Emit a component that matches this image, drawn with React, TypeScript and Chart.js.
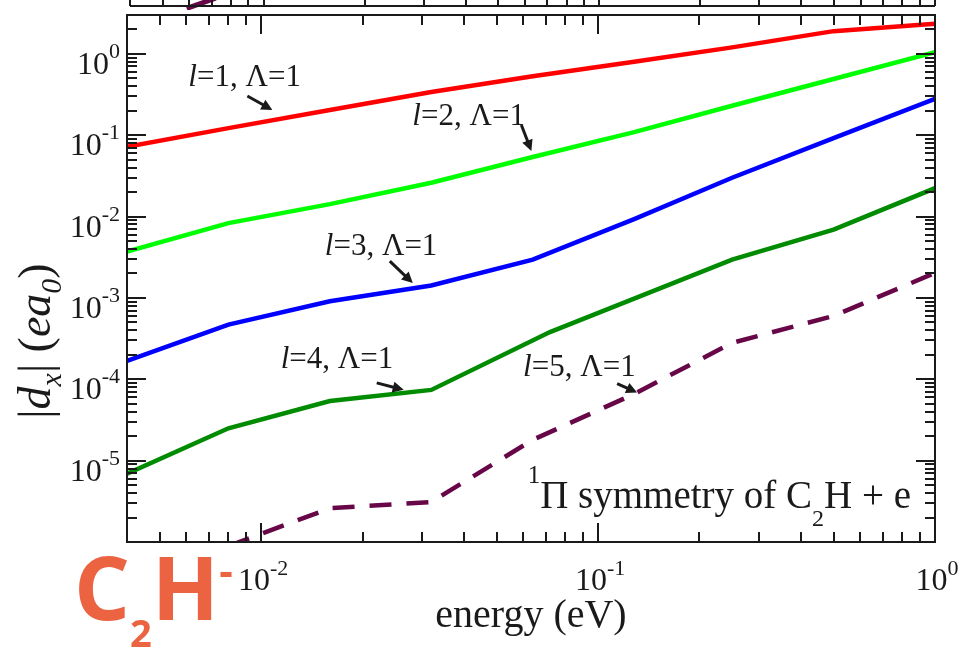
import React, { useEffect, useRef } from "react";
import { Chart, registerables } from "chart.js";

Chart.register(...registerables);

// ---- data -------------------------------------------------------------
// photon energy grid (eV)
const energy = [0.004, 0.008, 0.016, 0.032, 0.064, 0.128, 0.25, 0.5, 1.0];
// |d_x| in e*a0 for each partial wave l (Lambda = 1)
const dL1 = [0.072, 0.122, 0.204, 0.34, 0.53, 0.8, 1.2, 1.9, 2.35];
const dL2 = [0.0037, 0.0083, 0.0142, 0.026, 0.054, 0.109, 0.23, 0.49, 1.05];
const dL3 = [1.68e-4, 4.7e-4, 9.1e-4, 1.42e-3, 2.95e-3, 9.3e-3, 3.0e-2, 9.2e-2, 0.28];
const energyL4 = [0.004, 0.008, 0.016, 0.032, 0.072, 0.25, 0.5, 1.0];
const dL4 = [6.9e-6, 2.5e-5, 5.4e-5, 7.4e-5, 3.8e-4, 2.95e-3, 6.9e-3, 0.0223];
const energyL5 = [0.008, 0.016, 0.032, 0.064, 0.128, 0.25, 0.5, 1.0];
const dL5 = [8.9e-7, 2.6e-6, 3.1e-6, 1.8e-5, 6.6e-5, 2.8e-4, 6.0e-4, 2.03e-3];

// the lower edge of the panel above
const stripEnergy = [0.0059, 0.0072];
const stripValue = [-0.4, 1.3];

// decade exponents that carry a tick label
const xTickExps = [-2, -1, 0];
const yTickExps = [0, -1, -2, -3, -4, -5];

// curve annotations: l value and the point each arrow points at
const noteL = ["1", "2", "3", "4", "5"];
const noteEnergy = [0.0108, 0.0634, 0.0282, 0.0265, 0.1306];
const noteValue = [0.204, 0.064, 1.52e-3, 7.41e-5, 6.87e-5];

// ---- styling ----------------------------------------------------------
const SERIF = '"Liberation Serif", "DejaVu Serif", serif';
const INK = "#1a1a1a";
const MAROON = "rgb(103,7,72)";
const LOGO = "rgb(236,99,65)";

// arrow tail and label offsets (px) relative to the arrow tip
const noteTail = [[-25, -14], [-10, -26], [-23, -22], [-27, -7], [-20, -9]];
const noteText = [[-84, -24], [-119, -26], [-88, -28], [-123, -22], [-114, -17]];

type Seg = { t: string; size: number; italic?: boolean; dy?: number; family?: string; weight?: string };

const segFont = (s: Seg) =>
  `${s.italic ? "italic " : ""}${s.weight ?? "normal"} ${s.size}px ${s.family ?? SERIF}`;

function richWidth(ctx: CanvasRenderingContext2D, segs: Seg[]) {
  let w = 0;
  for (const s of segs) {
    ctx.font = segFont(s);
    w += ctx.measureText(s.t).width;
  }
  return w;
}

function drawRich(
  ctx: CanvasRenderingContext2D,
  segs: Seg[],
  x: number,
  y: number,
  align: "left" | "center" | "right" = "left"
) {
  const w = richWidth(ctx, segs);
  let cx = align === "left" ? x : align === "center" ? x - w / 2 : x - w;
  ctx.textAlign = "left";
  ctx.textBaseline = "alphabetic";
  for (const s of segs) {
    ctx.font = segFont(s);
    ctx.fillText(s.t, cx, y + (s.dy ?? 0));
    cx += ctx.measureText(s.t).width;
  }
}

function logTicks(min: number, max: number) {
  const out: { v: number; major: boolean }[] = [];
  for (let e = Math.floor(Math.log10(min)) - 1; e <= Math.ceil(Math.log10(max)); e++) {
    for (let m = 1; m <= 9; m++) {
      const v = m * Math.pow(10, e);
      if (v >= min * 1.0001 && v <= max * 0.9999) out.push({ v, major: m === 1 });
    }
  }
  return out;
}

function seg(ctx: CanvasRenderingContext2D, x0: number, y0: number, x1: number, y1: number) {
  ctx.beginPath();
  ctx.moveTo(x0, y0);
  ctx.lineTo(x1, y1);
  ctx.stroke();
}

function arrow(ctx: CanvasRenderingContext2D, x0: number, y0: number, x1: number, y1: number) {
  const a = Math.atan2(y1 - y0, x1 - x0);
  const c = Math.cos(a);
  const s = Math.sin(a);
  const head = 11;
  const hw = 5.5;
  ctx.lineWidth = 3;
  seg(ctx, x0, y0, x1 - head * 0.6 * c, y1 - head * 0.6 * s);
  ctx.beginPath();
  ctx.moveTo(x1, y1);
  ctx.lineTo(x1 - head * c + hw * s, y1 - head * s - hw * c);
  ctx.lineTo(x1 - head * c - hw * s, y1 - head * s + hw * c);
  ctx.closePath();
  ctx.fill();
}

const powerLabel = (e: number, base: number, sup: number, raise: number): Seg[] => [
  { t: "10", size: base },
  { t: String(e), size: sup, dy: -raise },
];

const MAJOR = 19;
const MINOR = 10;

const framePlugin = {
  id: "frameTicks",
  afterDraw(chart: any) {
    const { ctx, chartArea: a } = chart;
    const xs = chart.scales.x;
    const ys = chart.scales.y;
    ctx.save();
    ctx.strokeStyle = INK;
    ctx.fillStyle = INK;
    ctx.lineWidth = 2;
    ctx.lineCap = "butt";

    for (const t of logTicks(xs.min, xs.max)) {
      const px = Math.round(xs.getPixelForValue(t.v));
      const len = t.major ? MAJOR : MINOR;
      seg(ctx, px, a.bottom, px, a.bottom - len);
      seg(ctx, px, a.top, px, a.top + len);
    }
    for (const t of logTicks(ys.min, ys.max)) {
      const py = Math.round(ys.getPixelForValue(t.v));
      const len = t.major ? MAJOR : MINOR;
      seg(ctx, a.left, py, a.left + len, py);
      seg(ctx, a.right, py, a.right - len, py);
    }
    ctx.strokeRect(a.left, a.top, a.right - a.left, a.bottom - a.top);

    // tick labels
    for (const e of xTickExps) {
      const px = xs.getPixelForValue(Math.pow(10, e));
      drawRich(ctx, powerLabel(e, 32, 22, 15), px + 2, a.bottom + 48, "center");
    }
    for (const e of yTickExps) {
      const py = ys.getPixelForValue(Math.pow(10, e));
      drawRich(ctx, powerLabel(e, 32, 22, 16), a.left - 7, py + 20, "right");
    }

    // axis titles
    drawRich(
      ctx,
      [{ t: "energy (eV)", size: 40 }],
      (a.left + a.right) / 2,
      a.bottom + 85,
      "center"
    );
    ctx.save();
    ctx.translate(50, 341);
    ctx.rotate(-Math.PI / 2);
    drawRich(
      ctx,
      [
        { t: "|", size: 46 },
        { t: "d", size: 46, italic: true },
        { t: "x", size: 30, italic: true, dy: 11 },
        { t: "| (", size: 46 },
        { t: "ea", size: 46, italic: true },
        { t: "0", size: 30, italic: true, dy: 11 },
        { t: ")", size: 46 },
      ],
      0,
      0,
      "center"
    );
    ctx.restore();

    // curve annotations
    noteL.forEach((l, i) => {
      const tx = xs.getPixelForValue(noteEnergy[i]);
      const ty = ys.getPixelForValue(noteValue[i]);
      arrow(ctx, tx + noteTail[i][0], ty + noteTail[i][1], tx, ty);
      drawRich(
        ctx,
        [
          { t: "l", size: 31, italic: true },
          { t: `=${l}, \u039B=1`, size: 31 },
        ],
        tx + noteText[i][0],
        ty + noteText[i][1]
      );
    });

    // symmetry caption
    drawRich(
      ctx,
      [
        { t: "1", size: 25, dy: -25 },
        { t: "\u03A0 symmetry of C", size: 39 },
        { t: "2", size: 24, dy: 18 },
        { t: "H + e", size: 39 },
      ],
      a.right - 24,
      a.bottom - 34,
      "right"
    );

    // molecule tag
    ctx.fillStyle = LOGO;
    const fam = '"Open Sans", "Noto Sans", sans-serif';
    drawRich(
      ctx,
      [
        { t: "C", size: 88, weight: "bold", family: fam },
        { t: "2", size: 38, weight: "bold", family: fam, dy: 27 },
        { t: "H", size: 88, weight: "bold", family: fam },
        { t: "-", size: 42, weight: "bold", family: fam, dy: -34 },
      ],
      74,
      620
    );
    ctx.restore();
  },
};

const stripPlugin = {
  id: "stripFrame",
  afterDraw(chart: any) {
    const { ctx, chartArea: a } = chart;
    const xs = chart.scales.x;
    ctx.save();
    ctx.strokeStyle = INK;
    ctx.lineWidth = 2;
    for (const t of logTicks(xs.min, xs.max)) {
      const px = Math.round(xs.getPixelForValue(t.v));
      seg(ctx, px, a.bottom, px, a.bottom - (t.major ? MAJOR : MINOR));
    }
    seg(ctx, a.left, a.bottom, a.right, a.bottom);
    seg(ctx, a.left, 0, a.left, a.bottom);
    seg(ctx, a.right, 0, a.right, a.bottom);
    ctx.restore();
  },
};

const curve = (xv: number[], yv: number[], color: string, extra: any = {}) => ({
  data: xv.map((x, i) => ({ x, y: yv[i] })),
  borderColor: color,
  backgroundColor: color,
  borderWidth: 4.5,
  pointRadius: 0,
  tension: 0,
  fill: false,
  ...extra,
});

export default function App() {
  const mainRef = useRef<HTMLCanvasElement>(null);
  const stripRef = useRef<HTMLCanvasElement>(null);

  useEffect(() => {
    const main = new Chart(mainRef.current!, {
      type: "line",
      data: {
        datasets: [
          curve(energy, dL1, "#ff0000"),
          curve(energy, dL2, "#00ff00"),
          curve(energy, dL3, "#0000ff"),
          curve(energyL4, dL4, "rgb(0,139,0)"),
          curve(energyL5, dL5, MAROON, { borderDash: [22, 15] }),
        ] as any,
      },
      options: {
        animation: false,
        responsive: false,
        events: [],
        layout: { padding: { left: 127, right: 25, top: 15, bottom: 107 } },
        plugins: { legend: { display: false }, tooltip: { enabled: false } },
        scales: {
          x: { type: "logarithmic", min: 0.004, max: 1, display: false },
          y: { type: "logarithmic", min: 1e-6, max: 3, display: false },
        },
      },
      plugins: [framePlugin],
    });

    const strip = new Chart(stripRef.current!, {
      type: "line",
      data: {
        datasets: [curve(stripEnergy, stripValue, MAROON, { borderWidth: 5, clip: 4 })] as any,
      },
      options: {
        animation: false,
        responsive: false,
        events: [],
        layout: { padding: { left: 130, right: 25, top: 0, bottom: 4 } },
        plugins: { legend: { display: false }, tooltip: { enabled: false } },
        scales: {
          x: { type: "logarithmic", min: 0.004, max: 1, display: false },
          y: { type: "linear", min: 0, max: 1, display: false },
        },
      },
      plugins: [stripPlugin],
    });

    return () => {
      main.destroy();
      strip.destroy();
    };
  }, []);

  return (
    <div
      style={{
        position: "fixed",
        left: 0,
        top: 0,
        width: 960,
        height: 649,
        background: "#ffffff",
        overflow: "hidden",
      }}
    >
      <canvas
        ref={stripRef}
        width={960}
        height={10}
        style={{ position: "absolute", left: 0, top: 0, width: 960, height: 10 }}
      />
      <canvas
        ref={mainRef}
        width={960}
        height={649}
        style={{ position: "absolute", left: 0, top: 0, width: 960, height: 649 }}
      />
    </div>
  );
}
